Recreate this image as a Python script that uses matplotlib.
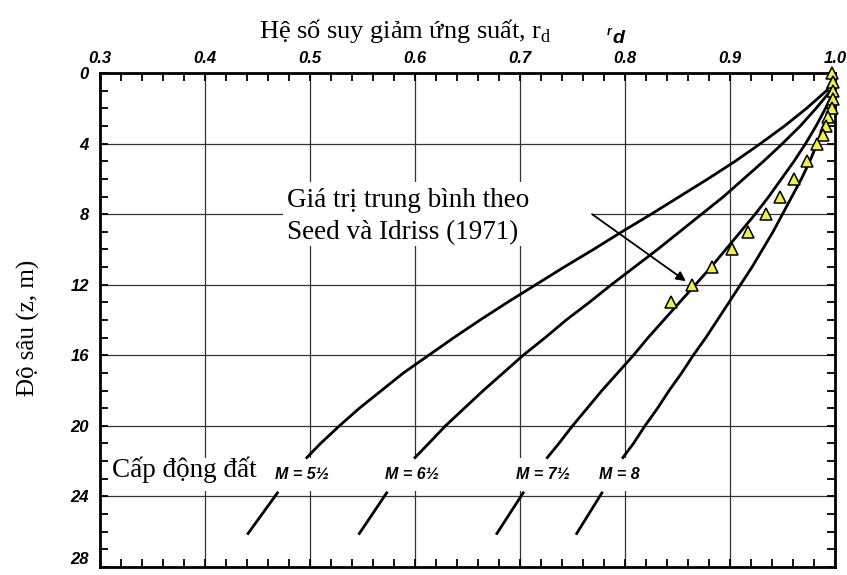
import numpy as np
import matplotlib.pyplot as plt
from matplotlib.patches import Rectangle
from matplotlib.ticker import MultipleLocator

plt.rcParams['mathtext.fontset'] = 'custom'
plt.rcParams['mathtext.rm'] = 'Liberation Serif'

# depth (m) and stress reduction coefficient rd for each magnitude
depth = [0, 1, 2, 3, 4, 5, 6, 7, 8, 9, 10, 11, 12, 13, 14, 15, 16, 17, 18, 19, 20, 21, 21.8]
rd_m55 = [1.000, 0.992, 0.973, 0.952, 0.929, 0.905, 0.879, 0.852, 0.825, 0.797, 0.770, 0.742,
          0.715, 0.688, 0.662, 0.637, 0.613, 0.589, 0.568, 0.547, 0.528, 0.510, 0.497]
rd_m65 = [1.000, 0.996, 0.982, 0.967, 0.950, 0.932, 0.913, 0.894, 0.873, 0.852, 0.831, 0.809,
          0.787, 0.766, 0.744, 0.724, 0.703, 0.684, 0.665, 0.647, 0.629, 0.613, 0.600]
rd_m75 = [1.000, 0.999, 0.991, 0.982, 0.972, 0.961, 0.949, 0.937, 0.924, 0.910, 0.896, 0.882,
          0.867, 0.852, 0.837, 0.822, 0.808, 0.793, 0.778, 0.764, 0.750, 0.737, 0.726]
rd_m80 = [1.000, 1.000, 0.995, 0.989, 0.983, 0.976, 0.968, 0.959, 0.950, 0.941, 0.931, 0.921,
          0.910, 0.899, 0.888, 0.877, 0.865, 0.854, 0.842, 0.831, 0.819, 0.808, 0.798]

# Seed & Idriss (1971) average values
si_depth = [0, 0.5, 1, 1.5, 2, 2.5, 3, 3.5, 4, 5, 6, 7, 8, 9, 10, 11, 12, 13]
si_rd = [0.997, 0.998, 0.998, 0.998, 0.997, 0.993, 0.991, 0.989, 0.983, 0.973, 0.961,
         0.948, 0.934, 0.917, 0.902, 0.883, 0.864, 0.844]

# magnitude labels and the short leader strokes below them
mag_labels = ['M = 5½', 'M = 6½', 'M = 7½', 'M = 8']
mag_label_x = [0.492, 0.597, 0.722, 0.795]
leader_x_top = [0.469, 0.573, 0.703, 0.778]
leader_x_bot = [0.441, 0.547, 0.678, 0.754]
leader_z = [23.8, 26.1]

x_ticks = [0.3, 0.4, 0.5, 0.6, 0.7, 0.8, 0.9, 1.0]
x_labels = ['0.3', '0.4', '0.5', '0.6', '0.7', '0.8', '0.9', '1.0']
y_ticks = [0, 4, 8, 12, 16, 20, 24, 28]

tick_font = dict(family='Liberation Sans', fontweight='bold', fontstyle='italic')

fig = plt.figure(figsize=(8.47, 5.75), dpi=100)
ax = fig.add_axes([100 / 847, 1 - 567 / 575, 735 / 847, 494 / 575])

# grid drawn by hand so white boxes can sit on top of it
ax.vlines(x_ticks[1:-1], 0, 28, color='#333333', lw=0.9, zorder=0.5)
ax.hlines(y_ticks[1:-1], 0.3, 1.0, color='#333333', lw=0.9, zorder=0.5)
ax.add_patch(Rectangle((0.3, 21.85), 0.55, 1.85, facecolor='white', edgecolor='none', zorder=0.8))
ax.add_patch(Rectangle((0.474, 6.15), 0.295, 3.68, facecolor='white', edgecolor='none', zorder=0.8))

for rd in [rd_m55, rd_m65, rd_m75, rd_m80]:
    ax.plot(rd, depth, color='black', lw=2, zorder=2)

for xt, xb in zip(leader_x_top, leader_x_bot):
    ax.plot([xt, xb], leader_z, color='black', lw=2, zorder=2)

for lbl, xl in zip(mag_labels, mag_label_x):
    ax.text(xl, 22.75, lbl, ha='center', va='center', fontsize=11.5, zorder=3, **tick_font)

ax.plot(si_rd, si_depth, linestyle='none', marker='^', ms=8, markerfacecolor='#eeee55',
        markeredgecolor='black', markeredgewidth=1.1, clip_on=False, zorder=4)

ax.text(0.478, 7.62, 'Giá trị trung bình theo', family='Liberation Serif', fontsize=19.5,
        ha='left', va='baseline', zorder=3)
ax.text(0.478, 9.43, 'Seed và Idriss (1971)', family='Liberation Serif', fontsize=19.5,
        ha='left', va='baseline', zorder=3)
ax.annotate('', xy=(0.858, 11.8), xytext=(0.7686, 8.0),
            arrowprops=dict(arrowstyle='-|>', color='black', lw=1.3, mutation_scale=14,
                            shrinkA=0, shrinkB=0), zorder=3)

ax.text(0.311, 22.9, 'Cấp động đất', family='Liberation Serif', fontsize=19.5,
        ha='left', va='baseline', zorder=3)

ax.set_xlim(0.3, 1.0)
ax.set_ylim(28, 0)
ax.set_xticks(x_ticks)
ax.set_xticklabels(x_labels, fontsize=12, **tick_font)
ax.set_yticks(y_ticks)
ax.set_yticklabels([str(v) for v in y_ticks], fontsize=12, **tick_font)
ax.get_yticklabels()[-1].set_va('bottom')
ax.xaxis.set_minor_locator(MultipleLocator(0.02))
ax.yaxis.set_minor_locator(MultipleLocator(1))
ax.tick_params(which='both', direction='in', top=True, bottom=True, left=True, right=True,
               labeltop=True, labelbottom=False, length=6, width=1.3, color='black')
ax.tick_params(axis='x', which='major', pad=5)
ax.tick_params(axis='y', which='major', pad=8)
for s in ax.spines.values():
    s.set_linewidth(2)

fig.text(405 / 847, 1 - 38 / 575, 'Hệ số suy giảm ứng suất, r$_{\\rm d}$', ha='center',
         va='baseline', family='Liberation Serif', fontsize=19)
fig.text(607 / 847, 1 - 35 / 575, 'r', ha='left', va='baseline', fontsize=9, **tick_font)
fig.text(612 / 847, 1 - 43 / 575, 'd', ha='left', va='baseline', fontsize=14, **tick_font)
fig.text(28 / 847, 1 - 328 / 575, 'Độ sâu (z, m)', rotation=90, ha='center', va='center',
         family='Liberation Serif', fontsize=18)

fig.savefig('out.png', dpi=100)
